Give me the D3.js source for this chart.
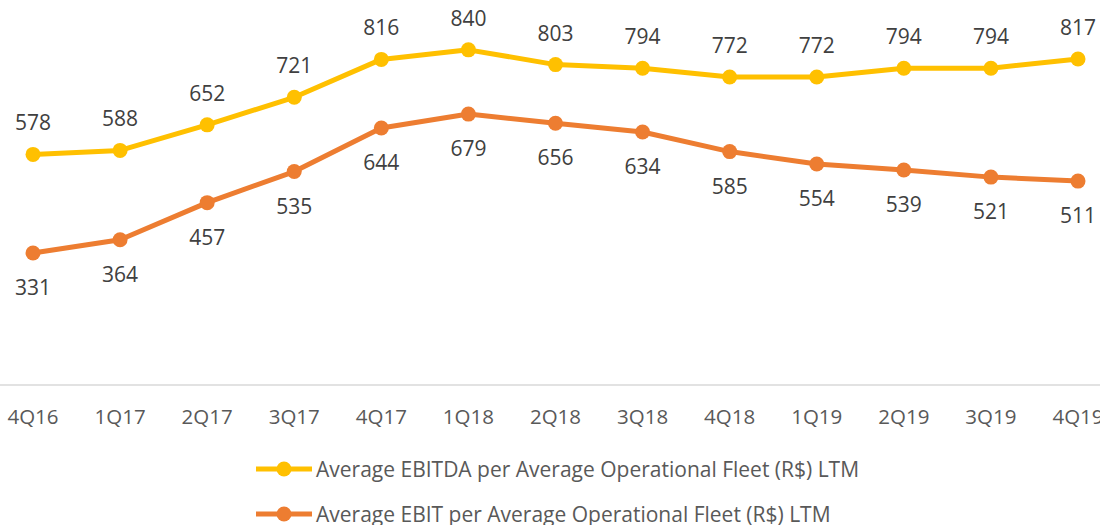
<!DOCTYPE html>
<html>
<head>
<meta charset="utf-8">
<script src="https://d3js.org/d3.v7.min.js"></script>
<style>
  body { margin: 0; background: #fff; }
  text { font-family: "Open Sans", sans-serif; fill: #595959; }
</style>
</head>
<body>
<svg width="1100" height="525"></svg>
<script>
var quarters = ["4Q16","1Q17","2Q17","3Q17","4Q17","1Q18","2Q18","3Q18","4Q18","1Q19","2Q19","3Q19","4Q19"];
var ebitda = [578,588,652,721,816,840,803,794,772,772,794,794,817];
var ebit = [331,364,457,535,644,679,656,634,585,554,539,521,511];
var seriesNames = [
  "Average EBITDA per Average Operational Fleet (R$) LTM",
  "Average EBIT per Average Operational Fleet (R$) LTM"
];

var svg = d3.select("svg");

var x = d3.scalePoint()
  .domain(quarters)
  .range([33, 1078]);
var y = d3.scaleLinear()
  .domain([0, 1000])
  .range([385, -14]);

// baseline axis
svg.append("line")
  .attr("x1", 0).attr("x2", 1100)
  .attr("y1", 385).attr("y2", 385)
  .attr("stroke", "#d9d9d9")
  .attr("stroke-width", 1.5);

svg.append("g")
  .selectAll("text")
  .data(quarters)
  .enter()
  .append("text")
  .attr("x", function(d){ return x(d); })
  .attr("y", 424)
  .attr("text-anchor", "middle")
  .style("font-size", "20.5px")
  .text(function(d){ return d; });

var series = [
  {name: seriesNames[0], values: ebitda, color: "#FFC000", dy: -24},
  {name: seriesNames[1], values: ebit, color: "#ED7D31", dy: 42}
];

var line = d3.line()
  .x(function(d, i){ return x(quarters[i]); })
  .y(function(d){ return y(d); });

series.forEach(function(s){
  var g = svg.append("g");
  g.append("path")
    .datum(s.values)
    .attr("d", line)
    .attr("fill", "none")
    .attr("stroke", s.color)
    .attr("stroke-width", 5)
    .attr("stroke-linejoin", "round");
  g.selectAll("circle")
    .data(s.values)
    .enter()
    .append("circle")
    .attr("cx", function(d, i){ return x(quarters[i]); })
    .attr("cy", function(d){ return y(d); })
    .attr("r", 7.5)
    .attr("fill", s.color);
  g.selectAll("text")
    .data(s.values)
    .enter()
    .append("text")
    .attr("x", function(d, i){ return x(quarters[i]); })
    .attr("y", function(d){ return y(d) + s.dy; })
    .attr("text-anchor", "middle")
    .style("font-size", "21px")
    .style("fill", "#404040")
    .text(function(d){ return d; });
});

// legend
var legend = svg.append("g")
  .selectAll("g")
  .data(series)
  .enter()
  .append("g")
  .attr("transform", function(d, i){ return "translate(256," + (469 + i * 45) + ")"; });
legend.append("line")
  .attr("x1", 0).attr("x2", 56)
  .attr("stroke", function(d){ return d.color; })
  .attr("stroke-width", 5);
legend.append("circle")
  .attr("cx", 28)
  .attr("r", 7.5)
  .attr("fill", function(d){ return d.color; });
legend.append("text")
  .attr("x", 60)
  .attr("y", 8)
  .style("font-size", "21px")
  .text(function(d){ return d.name; });
</script>
</body>
</html>
